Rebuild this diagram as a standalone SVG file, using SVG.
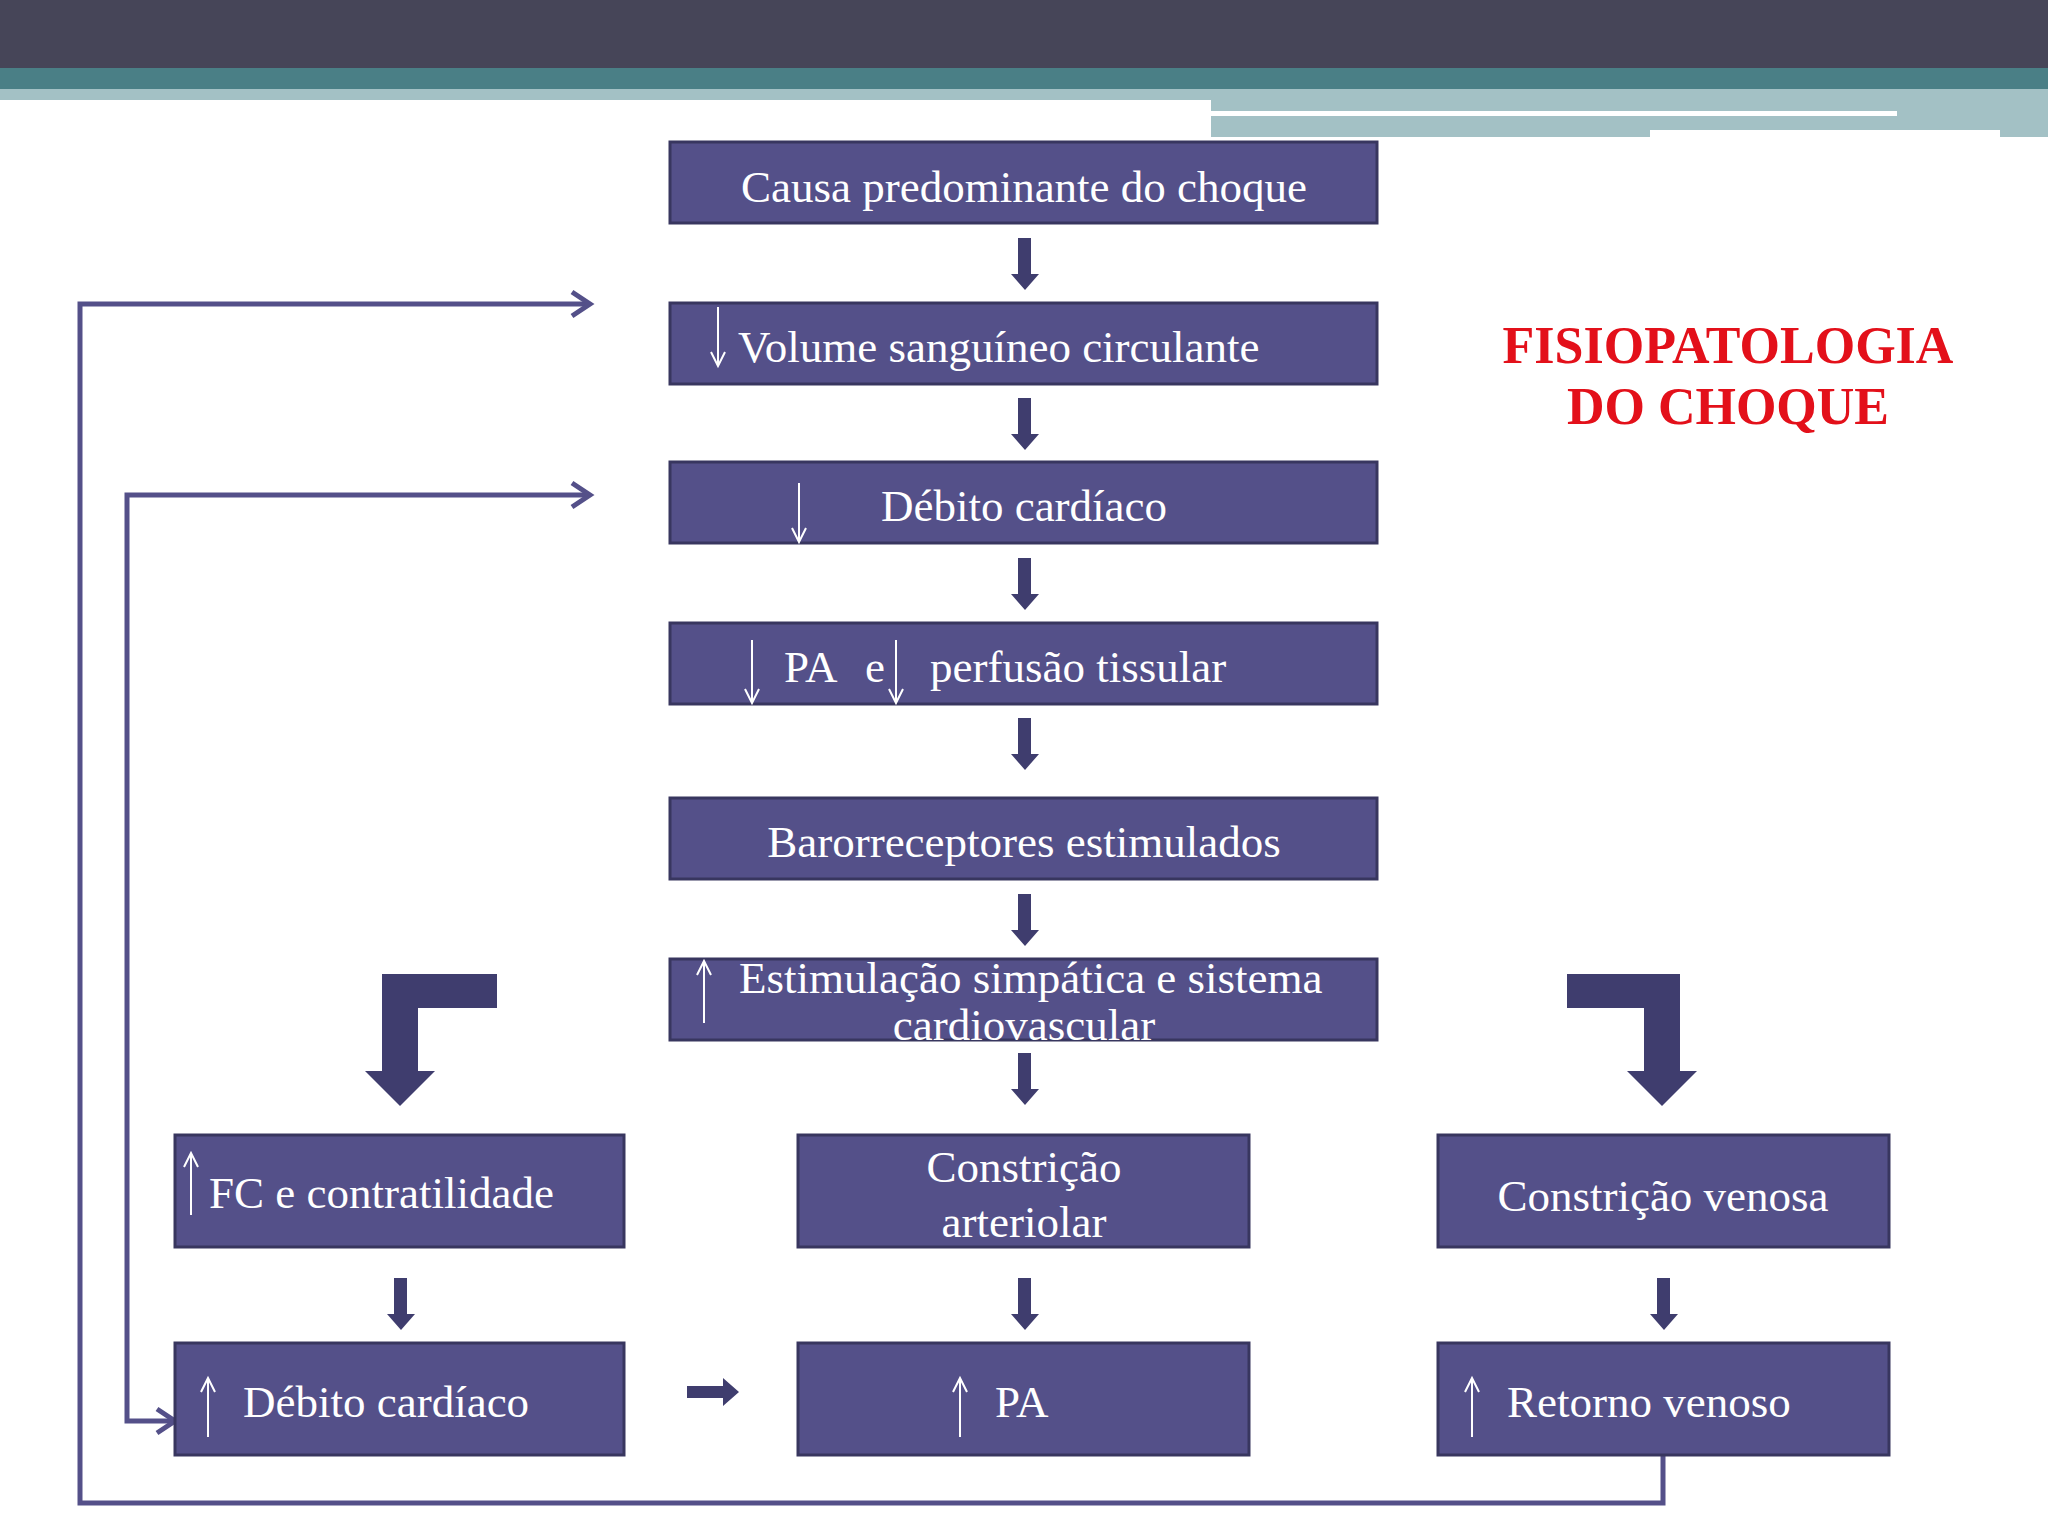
<svg xmlns="http://www.w3.org/2000/svg" width="2048" height="1536" viewBox="0 0 2048 1536">
<style>
.b{fill:#545089;stroke:#38365f;stroke-width:3}
.t{font-family:"Liberation Serif",serif;font-size:45px;fill:#fff}
.c{text-anchor:middle}
.ar{fill:#3f3d6e}
.a{stroke:#fff;stroke-width:2;fill:none}
.fb{stroke:#545089;stroke-width:5;fill:none}
</style>
<rect width="2048" height="1536" fill="#fff"/>
<rect width="2048" height="68" fill="#464558"/>
<rect y="68" width="2048" height="21" fill="#4a7f86"/>
<rect y="89" width="1211" height="11" fill="#a3c1c5"/>
<rect x="1211" y="89" width="837" height="48" fill="#a3c1c5"/>
<rect x="1211" y="111" width="686" height="5" fill="#fff"/>
<rect x="1650" y="130" width="350" height="8" fill="#fff"/>
<g id="title" font-family="Liberation Serif,serif" font-weight="bold" font-size="52" fill="#e3101a" text-anchor="middle">
<text x="1728" y="363">FISIOPATOLOGIA</text><text x="1728" y="424">DO CHOQUE</text></g>
<g id="connectors">
<path class="fb" d="M590 304H80V1503H1663V1455"/>
<path class="fb" d="M572 292L590 304L572 316"/>
<path class="fb" d="M590 495H127V1421H175"/>
<path class="fb" d="M572 483L590 495L572 507M157 1409L175 1421L157 1433"/>
<g class="ar">
<path id="sd" d="M1018 238h13v36h8l-14 16l-14 -16h7z"/>
<use href="#sd" y="160"/><use href="#sd" y="320"/><use href="#sd" y="480"/><use href="#sd" y="656"/><use href="#sd" y="815"/><use href="#sd" y="1040"/>
<use href="#sd" x="-624" y="1040"/><use href="#sd" x="639" y="1040"/>
<path d="M687 1386h36v-8l16 14l-16 14v-8h-36z"/>
<path d="M497 974h-115v97h-17l35 35l35 -35h-17v-63h79z"/>
<path d="M1567 974h113v97h17l-35 35l-35 -35h17v-63h-77z"/>
</g></g>
<g id="n1"><rect class="b" x="670" y="142" width="707" height="81"/><text class="t c" x="1024" y="202">Causa predominante do choque</text></g>
<g id="n2"><rect class="b" x="670" y="303" width="707" height="81"/><path class="a" d="M718 307V366M711 352L718 366L725 352"/><text class="t" x="738" y="362">Volume sanguíneo circulante</text></g>
<g id="n3"><rect class="b" x="670" y="462" width="707" height="81"/><path class="a" d="M799 483V542M792 528L799 542L806 528"/><text class="t c" x="1024" y="521">Débito cardíaco</text></g>
<g id="n4"><rect class="b" x="670" y="623" width="707" height="81"/><path class="a" d="M752 640V703M745 689L752 703L759 689M896 640V703M889 689L896 703L903 689"/><text class="t" x="784" y="682">PA</text><text class="t" x="865" y="682">e</text><text class="t" x="930" y="682">perfusão tissular</text></g>
<g id="n5"><rect class="b" x="670" y="798" width="707" height="81"/><text class="t c" x="1024" y="857">Barorreceptores estimulados</text></g>
<g id="n6"><rect class="b" x="670" y="959" width="707" height="81"/><path class="a" d="M704 1023V961M697 975L704 961L711 975"/><text class="t" x="739" y="993" font-size="39">Estimulação simpática e sistema</text><text class="t c" x="1024" y="1040" font-size="39">cardiovascular</text></g>
<g id="n7"><rect class="b" x="175" y="1135" width="449" height="112"/><path class="a" d="M191 1215V1153M184 1167L191 1153L198 1167"/><text class="t" x="209" y="1208">FC e contratilidade</text></g>
<g id="n8"><rect class="b" x="798" y="1135" width="451" height="112"/><text class="t c" x="1024" y="1182">Constrição</text><text class="t c" x="1024" y="1237">arteriolar</text></g>
<g id="n9"><rect class="b" x="1438" y="1135" width="451" height="112"/><text class="t c" x="1663" y="1211">Constrição venosa</text></g>
<g id="n10"><rect class="b" x="175" y="1343" width="449" height="112"/><path class="a" d="M208 1437V1378M201 1392L208 1378L215 1392"/><text class="t" x="243" y="1417">Débito cardíaco</text></g>
<g id="n11"><rect class="b" x="798" y="1343" width="451" height="112"/><path class="a" d="M960 1437V1378M953 1392L960 1378L967 1392"/><text class="t" x="995" y="1417">PA</text></g>
<g id="n12"><rect class="b" x="1438" y="1343" width="451" height="112"/><path class="a" d="M1472 1437V1378M1465 1392L1472 1378L1479 1392"/><text class="t" x="1507" y="1417">Retorno venoso</text></g>
</svg>
